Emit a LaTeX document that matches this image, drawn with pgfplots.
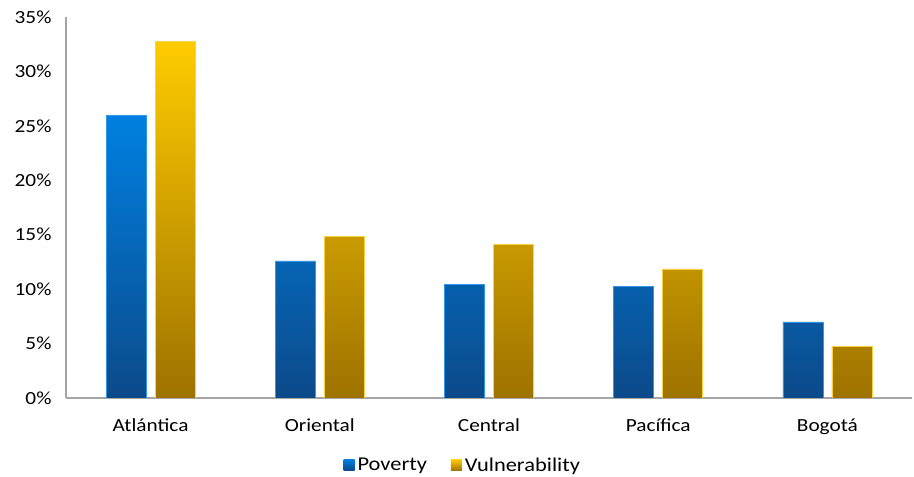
\documentclass[border=0pt]{standalone}
\usepackage{graphicx}
\usepackage{pgfplots}
\pgfplotsset{compat=1.18}
\usepackage{fontspec}
\setmainfont{Carlito}

\definecolor{povtop}{RGB}{0,128,225}
\definecolor{povmid}{RGB}{4,114,210}
\definecolor{povbot}{RGB}{12,74,138}
\definecolor{povedge}{RGB}{50,150,232}
\definecolor{vultop}{RGB}{255,204,0}
\definecolor{vulmid}{RGB}{222,168,0}
\definecolor{vulbot}{RGB}{158,114,0}
\definecolor{vuledge}{RGB}{250,210,70}
\definecolor{axisgray}{RGB}{165,165,165}

\newcommand{\lbl}[1]{\scalebox{1.15}[1]{#1}}

\begin{document}
\begin{tikzpicture}[x=1pt,y=1pt]
\useasboundingbox (0,0) rectangle (914,477);
\begin{axis}[
  at={(66pt,79pt)}, anchor=south west,
  scale only axis,
  width=846pt, height=381pt,
  xmin=-0.5, xmax=4.5,
  ymin=0, ymax=35,
  ybar=9pt, bar width=40pt,
  xtick={0,1,2,3,4},
  xticklabels={\lbl{Atlántica},\lbl{Oriental},\lbl{Central},\lbl{Pacífica},\lbl{Bogotá}},
  ytick={0,5,10,15,20,25,30,35},
  yticklabel={\lbl{\pgfmathprintnumber{\tick}\%}},
  /pgf/number format/assume math mode=true,
  major tick length=0pt,
  axis x line*=bottom, axis y line*=left,
  axis line style={axisgray, line width=1.2pt, -},
  tick label style={font=\fontsize{18.5}{20}\selectfont, text=black},
  xticklabel style={yshift=-17pt},
  yticklabel style={xshift=-11pt},
  legend style={at={(0.469,-0.176)}, anchor=center, draw=none, fill=none,
    font=\fontsize{19.5}{21}\selectfont, legend columns=2,
    /tikz/every even column/.append style={column sep=22pt}},
  legend image code/.code={\path[#1, draw=none] (0pt,-5.5pt) rectangle (11pt,5.5pt);},
]
\addplot[top color=povtop, middle color=povmid, bottom color=povbot, draw=povedge, line width=0.6pt]
  coordinates {(0,25.96) (1,12.60) (2,10.43) (3,10.24) (4,6.99)};
\addplot[top color=vultop, middle color=vulmid, bottom color=vulbot, draw=vuledge, line width=0.6pt]
  coordinates {(0,32.77) (1,14.87) (2,14.13) (3,11.86) (4,4.75)};
\legend{\hspace{1pt}\lbl{Poverty}, \hspace{1pt}\lbl{Vulnerability}}
\end{axis}
\end{tikzpicture}
\end{document}
